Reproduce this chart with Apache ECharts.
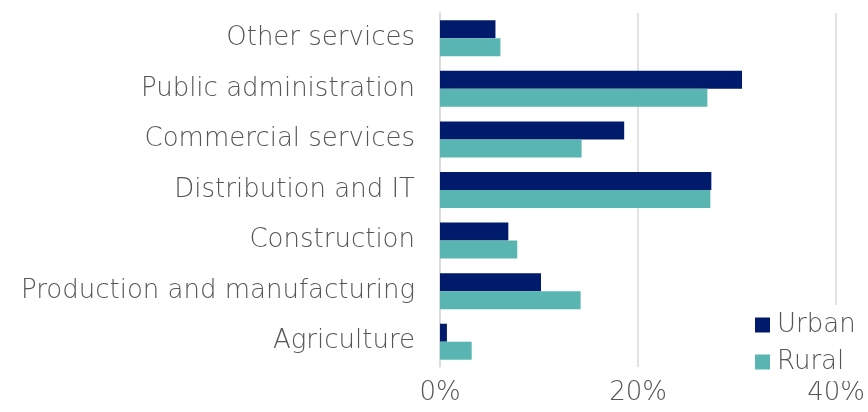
<!DOCTYPE html>
<html>
<head>
<meta charset="utf-8">
<script src="https://cdn.jsdelivr.net/npm/echarts@6/dist/echarts.min.js"></script>
<style>
html,body{margin:0;padding:0;background:#fff;}
#chart{width:868px;height:412px;}
</style>
</head>
<body>
<div id="chart"></div>
<script>
const categories = ['Agriculture', 'Production and manufacturing', 'Construction', 'Distribution and IT', 'Commercial services', 'Public administration', 'Other services'];
const urban = [0.7, 10.2, 6.9, 27.4, 18.6, 30.5, 5.6];
const rural = [3.2, 14.2, 7.8, 27.3, 14.3, 27.0, 6.1];
const xTicks = [0, 20, 40];

const FONT = 'DejaVu Sans';
const FW = 200;
const FS = 26;
const TXT = '#555555';
const chart = echarts.init(document.getElementById('chart'), null, {renderer: 'canvas'});
chart.setOption({
  animation: false,
  textStyle: {fontFamily: FONT},
  grid: {left: 440, right: 28, top: 13, bottom: 45, containLabel: false},
  legend: {
    orient: 'vertical', left: 753, top: 305,
    padding: [7, 12, 6, 2],
    backgroundColor: '#ffffff',
    itemWidth: 15, itemHeight: 15, itemGap: 11,
    icon: 'rect',
    data: ['Urban', 'Rural'],
    textStyle: {fontFamily: FONT, fontWeight: FW, fontSize: FS, color: TXT, padding: [0, 0, 0, 2]}
  },
  xAxis: {
    type: 'value', min: xTicks[0], max: xTicks[xTicks.length - 1], interval: 20,
    axisLine: {show: false}, axisTick: {show: false},
    splitLine: {show: true, lineStyle: {color: '#d9d9d9', width: 1.5}},
    axisLabel: {formatter: v => v + '%', fontFamily: FONT, fontWeight: FW, fontSize: FS, color: TXT, margin: 13}
  },
  yAxis: {
    type: 'category', data: categories,
    axisLine: {show: true, lineStyle: {color: '#d9d9d9', width: 1.5}},
    axisTick: {show: false},
    axisLabel: {fontFamily: FONT, fontWeight: FW, fontSize: FS, color: TXT, margin: 25}
  },
  series: [
    {name: 'Urban', type: 'bar', data: urban, barWidth: 18, barGap: '0%', itemStyle: {color: '#001b6b'}},
    {name: 'Rural', type: 'bar', data: rural, barWidth: 18, barGap: '0%', itemStyle: {color: '#58b5b1'}}
  ]
});
</script>
</body>
</html>
